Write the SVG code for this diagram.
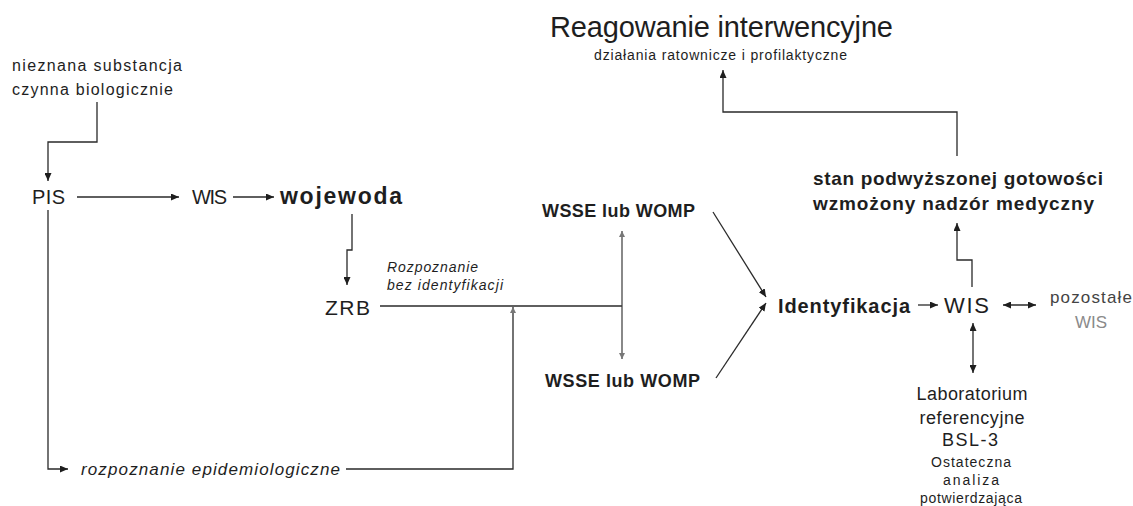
<svg xmlns="http://www.w3.org/2000/svg" width="1133" height="506" viewBox="0 0 1133 506">
  <style>
    text { font-family: "Liberation Sans", Arial, sans-serif; fill: #1e1e1e; }
    .b { font-weight: bold; }
    .i { font-style: italic; }
    .mid { text-anchor: middle; }
    .grey { fill: #8a8a8a; }
    .dim { fill: #444; }
    .wire { fill: none; stroke: #2a2a2a; stroke-width: 1.3; }
    .faint { fill: none; stroke: #3a3a3a; stroke-width: 1.2; }
  </style>
  <defs>
    <marker id="ah" viewBox="0 0 8 7" refX="8" refY="3.5" markerWidth="8" markerHeight="7" markerUnits="userSpaceOnUse" orient="auto-start-reverse">
      <path d="M0,0 L8,3.5 L0,7 z" fill="#1e1e1e"/>
    </marker>
    <marker id="ahs" viewBox="0 0 6 6" refX="6" refY="3" markerWidth="6" markerHeight="6" markerUnits="userSpaceOnUse" orient="auto-start-reverse">
      <path d="M0,0 L6,3 L0,6 z" fill="#777"/>
    </marker>
  </defs>

  <rect width="1133" height="506" fill="#ffffff"/>

  <!-- connectors -->
  <g id="connectors">
    <path class="wire" d="M97,102 V142 H48 V181" marker-end="url(#ah)"/>
    <path class="wire" d="M77,197 H179" marker-end="url(#ah)"/>
    <path class="wire" d="M233,197 H274" marker-end="url(#ah)"/>
    <path class="wire" d="M352,214 V250 H347 V285" marker-end="url(#ah)"/>
    <path class="wire" d="M380,306 H622"/>
    <path class="faint" d="M622,231 V359" marker-start="url(#ahs)" marker-end="url(#ahs)"/>
    <path class="wire" d="M48,210 V469 H68" marker-end="url(#ah)"/>
    <path class="wire" d="M346,469 H513 V307" marker-end="url(#ahs)"/>
    <path class="wire" d="M713,212 L766,297" marker-end="url(#ah)"/>
    <path class="wire" d="M716,378 L766,303" marker-end="url(#ah)"/>
    <path class="wire" d="M918,305 H938" marker-end="url(#ah)"/>
    <path class="wire" d="M1003,305 H1036" marker-start="url(#ah)" marker-end="url(#ah)"/>
    <path class="wire" d="M973,323 V373" marker-start="url(#ah)" marker-end="url(#ah)"/>
    <path class="wire" d="M972,287 V260 H957 V223" marker-end="url(#ah)"/>
    <path class="wire" d="M957,156 V112 H723 V70" marker-end="url(#ah)"/>
  </g>

  <g id="source">
    <text x="12" y="71" font-size="16" textLength="170" lengthAdjust="spacing">nieznana substancja</text>
    <text x="12" y="95" font-size="16" textLength="161" lengthAdjust="spacing">czynna biologicznie</text>
  </g>

  <g id="pis">
    <text x="32" y="204" font-size="20" textLength="33" lengthAdjust="spacing">PIS</text>
  </g>

  <g id="wis-left">
    <text x="192" y="204" font-size="20" textLength="35" lengthAdjust="spacing">WIS</text>
  </g>

  <g id="wojewoda">
    <text class="b" x="280" y="204" font-size="23" textLength="122" lengthAdjust="spacing">wojewoda</text>
  </g>

  <g id="zrb">
    <text x="325" y="315" font-size="21" textLength="45" lengthAdjust="spacing">ZRB</text>
  </g>

  <g id="label-rozpoznanie">
    <text class="i" x="387" y="272" font-size="14" textLength="91" lengthAdjust="spacing">Rozpoznanie</text>
    <text class="i" x="387" y="290" font-size="14" textLength="116" lengthAdjust="spacing">bez identyfikacji</text>
  </g>

  <g id="epidemiologia">
    <text class="i" x="81" y="475" font-size="17" textLength="259" lengthAdjust="spacing">rozpoznanie epidemiologiczne</text>
  </g>

  <g id="wsse-top">
    <text class="b" x="542" y="217" font-size="18" textLength="153" lengthAdjust="spacing">WSSE lub WOMP</text>
  </g>

  <g id="wsse-bottom">
    <text class="b" x="545" y="387" font-size="18" textLength="155" lengthAdjust="spacing">WSSE lub WOMP</text>
  </g>

  <g id="identyfikacja">
    <text class="b" x="778" y="313" font-size="20" textLength="132" lengthAdjust="spacing">Identyfikacja</text>
  </g>

  <g id="wis-right">
    <text x="944" y="313" font-size="22" textLength="45" lengthAdjust="spacing">WIS</text>
  </g>

  <g id="pozostale">
    <text class="dim" x="1050" y="303" font-size="17" textLength="82" lengthAdjust="spacing">pozostałe</text>
    <text class="grey" x="1075" y="328" font-size="17" textLength="32" lengthAdjust="spacing">WIS</text>
  </g>

  <g id="laboratorium">
    <text class="mid" x="972" y="400" font-size="18" textLength="111" lengthAdjust="spacing">Laboratorium</text>
    <text class="mid" x="972" y="424" font-size="18" textLength="105" lengthAdjust="spacing">referencyjne</text>
    <text class="mid" x="970" y="446" font-size="18" textLength="56" lengthAdjust="spacing">BSL-3</text>
    <text class="mid" x="971" y="467" font-size="14" textLength="80" lengthAdjust="spacing">Ostateczna</text>
    <text class="mid" x="971" y="485" font-size="14" textLength="56" lengthAdjust="spacing">analiza</text>
    <text class="mid" x="971" y="503" font-size="14" textLength="102" lengthAdjust="spacing">potwierdzająca</text>
  </g>

  <g id="gotowosc">
    <text class="b" x="813" y="185" font-size="19" textLength="290" lengthAdjust="spacing">stan podwyższonej gotowości</text>
    <text class="b" x="813" y="210" font-size="19" textLength="281" lengthAdjust="spacing">wzmożony nadzór medyczny</text>
  </g>

  <g id="reagowanie">
    <text x="550" y="37" font-size="29" textLength="343" lengthAdjust="spacing">Reagowanie interwencyjne</text>
    <text x="594" y="60" font-size="14" textLength="253" lengthAdjust="spacing">działania ratownicze i profilaktyczne</text>
  </g>
</svg>
